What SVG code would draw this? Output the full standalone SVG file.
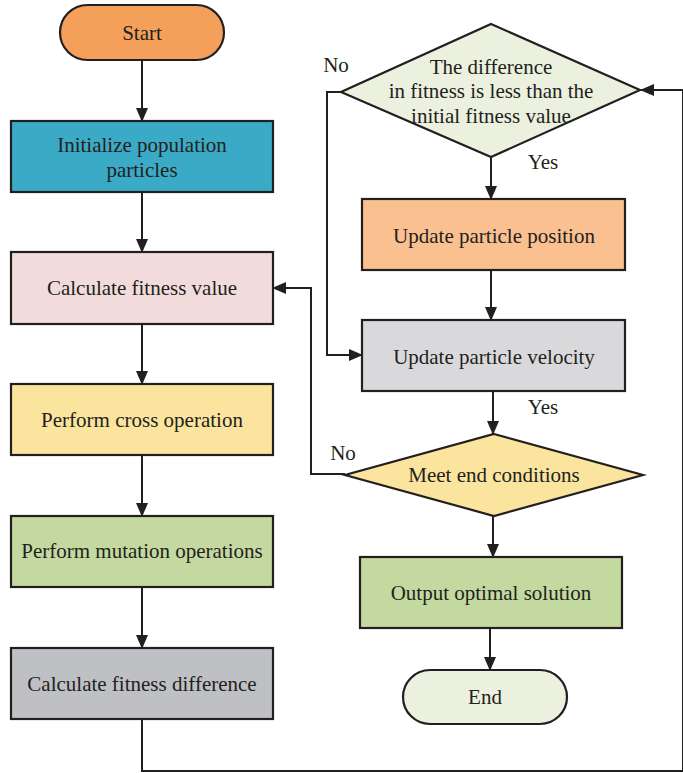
<svg xmlns="http://www.w3.org/2000/svg" width="683" height="773" viewBox="0 0 683 773">
<style>
.n{stroke:#231f20;stroke-width:2.2}
.t{font-family:'Liberation Serif','Times New Roman',serif;font-size:21px;fill:#231f20;text-anchor:middle}
.c{fill:none;stroke:#231f20;stroke-width:2}
</style>
<defs>
<marker id="ah" markerWidth="14" markerHeight="12" refX="13" refY="6" orient="auto" markerUnits="userSpaceOnUse">
<path d="M0,0 L14,6 L0,12 Z" fill="#231f20"/>
</marker>
</defs>
<rect width="683" height="773" fill="#fff"/>
<g id="connectors">
<path class="c" d="M142,60 V121" marker-end="url(#ah)"/>
<path class="c" d="M142,192 V252" marker-end="url(#ah)"/>
<path class="c" d="M142,324 V384" marker-end="url(#ah)"/>
<path class="c" d="M142,455 V516" marker-end="url(#ah)"/>
<path class="c" d="M142,587 V648" marker-end="url(#ah)"/>
<path class="c" d="M142,719 V771 H683 V90 H641" marker-end="url(#ah)"/>
<path class="c" d="M341,92 H327 V355 H362" marker-end="url(#ah)"/>
<path class="c" d="M491,157 V199" marker-end="url(#ah)"/>
<path class="c" d="M491,270 V320" marker-end="url(#ah)"/>
<path class="c" d="M493,391 V434" marker-end="url(#ah)"/>
<path class="c" d="M345,474 H311 V288 H273" marker-end="url(#ah)"/>
<path class="c" d="M493,516 V557" marker-end="url(#ah)"/>
<path class="c" d="M490,628 V670" marker-end="url(#ah)"/>
<text class="t" x="336" y="72">No</text>
<text class="t" x="543" y="169">Yes</text>
<text class="t" x="543" y="414">Yes</text>
<text class="t" x="343" y="460">No</text>
</g>
<g id="start"><rect class="n" x="60" y="5" width="164" height="55" rx="27.5" fill="#f5a05a"/><text class="t" x="142" y="40">Start</text></g>
<g id="init"><rect class="n" x="11" y="121" width="262" height="71" fill="#3baac6"/><text class="t" x="142" y="152">Initialize population</text><text class="t" x="142" y="177">particles</text></g>
<g id="calcfit"><rect class="n" x="11" y="252" width="262" height="72" fill="#f2dcdb"/><text class="t" x="142" y="295">Calculate fitness value</text></g>
<g id="cross"><rect class="n" x="11" y="384" width="262" height="71" fill="#fbe49d"/><text class="t" x="142" y="427">Perform cross operation</text></g>
<g id="mutation"><rect class="n" x="11" y="516" width="262" height="71" fill="#c4d9a0"/><text class="t" x="142" y="558">Perform mutation operations</text></g>
<g id="calcdiff"><rect class="n" x="11" y="648" width="262" height="71" fill="#bfc0c4"/><text class="t" x="142" y="691">Calculate fitness difference</text></g>
<g id="decision1"><polygon class="n" points="491,24 640,90 491,157 341,92" fill="#ebf1de"/><text class="t" x="491" y="74">The difference</text><text class="t" x="491" y="98">in fitness is less than the</text><text class="t" x="491" y="123">initial fitness value</text></g>
<g id="position"><rect class="n" x="362" y="199" width="263" height="71" fill="#fac090"/><text class="t" x="494" y="243">Update particle position</text></g>
<g id="velocity"><rect class="n" x="362" y="320" width="263" height="71" fill="#d9d9db"/><text class="t" x="494" y="364">Update particle velocity</text></g>
<g id="decision2"><polygon class="n" points="494,434 643,475 494,516 345,475" fill="#fbe49d"/><text class="t" x="494" y="482">Meet end conditions</text></g>
<g id="output"><rect class="n" x="360" y="557" width="262" height="71" fill="#c4d9a0"/><text class="t" x="491" y="600">Output optimal solution</text></g>
<g id="end"><rect class="n" x="403" y="670" width="164" height="54" rx="27" fill="#ebf1de"/><text class="t" x="485" y="704">End</text></g>
</svg>
